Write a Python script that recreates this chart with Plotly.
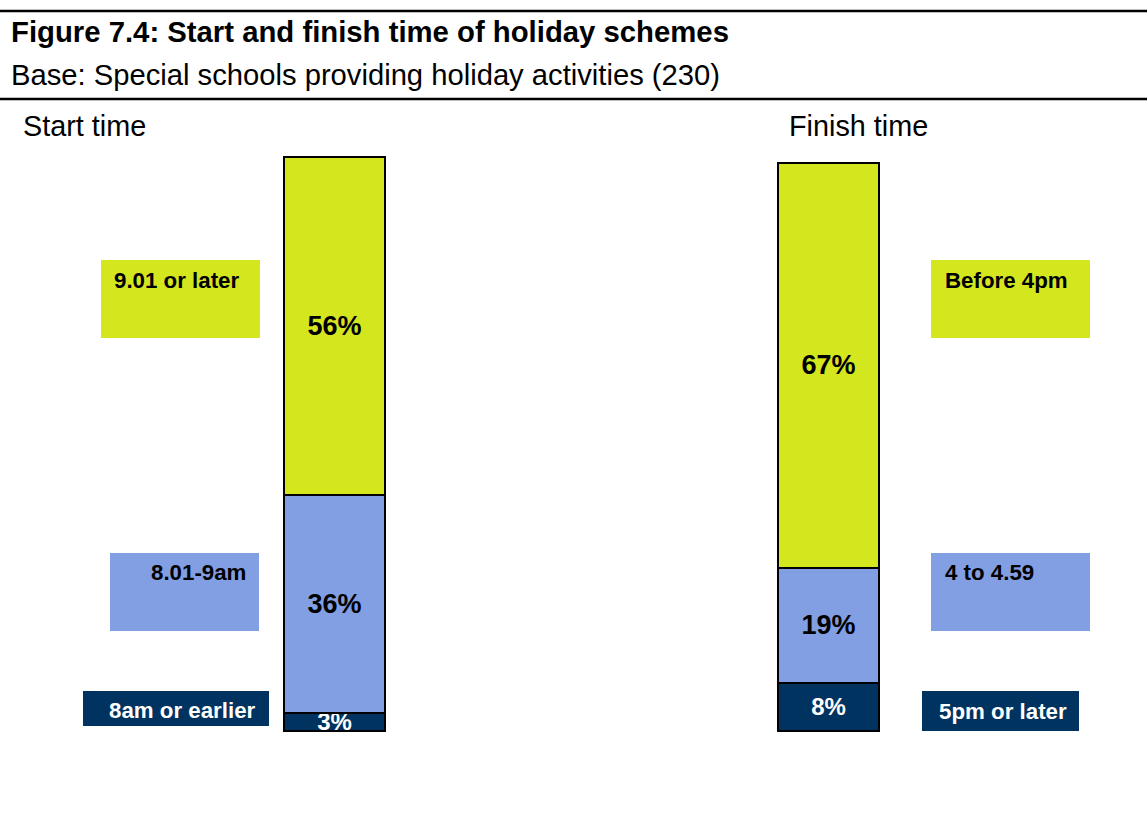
import plotly.graph_objects as go

# Data: share of special schools by scheme start / finish time (%)
categories = ["Start time", "Finish time"]
start_bands = ["8am or earlier", "8.01-9am", "9.01 or later"]
finish_bands = ["5pm or later", "4 to 4.59", "Before 4pm"]
start_values = [3, 36, 56]
finish_values = [8, 19, 67]

W, H = 1147, 831
FONT = "Liberation Sans, Arial, sans-serif"
NAVY = "#003360"
BLUE = "#829FE4"
YELLOW = "#D4E61E"
band_colors = [NAVY, BLUE, YELLOW]
label_colors = ["white", "black", "black"]
label_sizes = [24, 27, 27]


def px(x):
    return x / W


def py(y):
    return 1 - y / H


fig = go.Figure()
for i in range(3):
    vals = [start_values[i], finish_values[i]]
    fig.add_trace(go.Bar(
        x=categories,
        y=vals,
        width=0.2045,
        marker=dict(color=band_colors[i], line=dict(color="black", width=2)),
        text=[f"<b>{v}%</b>" for v in vals],
        textposition="inside",
        insidetextanchor="middle",
        textangle=0,
        constraintext="none",
        textfont=dict(family=FONT, size=label_sizes[i], color=label_colors[i]),
        hoverinfo="skip",
    ))

# vertical scale: bar base at y=731px, tallest stack top at y=157px
top_total = max(sum(start_values), sum(finish_values))
scale = (731 - 157) / top_total
y_lo = -(H - 731) / scale
y_hi = top_total + 157 / scale

# horizontal scale: category centres at x=334.5px and 828.5px
gap = 828.5 - 334.5
x_lo = -334.5 / gap
x_hi = (W - 334.5) / gap

shapes = [
    dict(type="line", xref="paper", yref="paper", x0=0, x1=1, y0=py(11), y1=py(11),
         line=dict(color="black", width=2.5)),
    dict(type="line", xref="paper", yref="paper", x0=0, x1=1, y0=py(99), y1=py(99),
         line=dict(color="black", width=2.5)),
]

# key boxes: (x0, x1, y0, y1, colour, text, text_x, text_y, text colour)
key_boxes = [
    (101, 260, 260, 338, YELLOW, start_bands[2], 112, 280, "black"),
    (110, 259, 553, 631, BLUE, start_bands[1], 149, 572, "black"),
    (83, 269, 691, 726, NAVY, start_bands[0], 107, 710, "white"),
    (931, 1090, 260, 338, YELLOW, finish_bands[2], 943, 280, "black"),
    (931, 1090, 553, 631, BLUE, finish_bands[1], 943, 572, "black"),
    (922, 1079, 691, 731, NAVY, finish_bands[0], 937, 711, "white"),
]

annotations = [
    dict(text="<b>Figure 7.4: Start and finish time of holiday schemes</b>",
         x=px(9), y=py(31), xanchor="left", yanchor="middle",
         font=dict(family=FONT, size=29.3, color="black")),
    dict(text="Base: Special schools providing holiday activities (230)",
         x=px(9), y=py(75), xanchor="left", yanchor="middle",
         font=dict(family=FONT, size=29.2, color="black")),
    dict(text=categories[0], x=px(21), y=py(126), xanchor="left", yanchor="middle",
         font=dict(family=FONT, size=28.8, color="black")),
    dict(text=categories[1], x=px(787), y=py(126), xanchor="left", yanchor="middle",
         font=dict(family=FONT, size=28.8, color="black")),
]

for x0, x1, y0, y1, col, txt, tx, ty, tcol in key_boxes:
    shapes.append(dict(type="rect", xref="paper", yref="paper",
                       x0=px(x0), x1=px(x1), y0=py(y1), y1=py(y0),
                       fillcolor=col, line=dict(width=0), layer="below"))
    annotations.append(dict(text=f"<b>{txt}</b>", x=px(tx), y=py(ty),
                            xanchor="left", yanchor="middle",
                            font=dict(family=FONT, size=22.3, color=tcol)))

for a in annotations:
    a.update(xref="paper", yref="paper", showarrow=False)

fig.update_layout(
    width=W, height=H,
    margin=dict(l=0, r=0, t=0, b=0),
    paper_bgcolor="white", plot_bgcolor="white",
    barmode="stack",
    showlegend=False,
    xaxis=dict(visible=False, range=[x_lo, x_hi], fixedrange=True),
    yaxis=dict(visible=False, range=[y_lo, y_hi], fixedrange=True),
    shapes=shapes,
    annotations=annotations,
)

fig.write_html("out.html")
